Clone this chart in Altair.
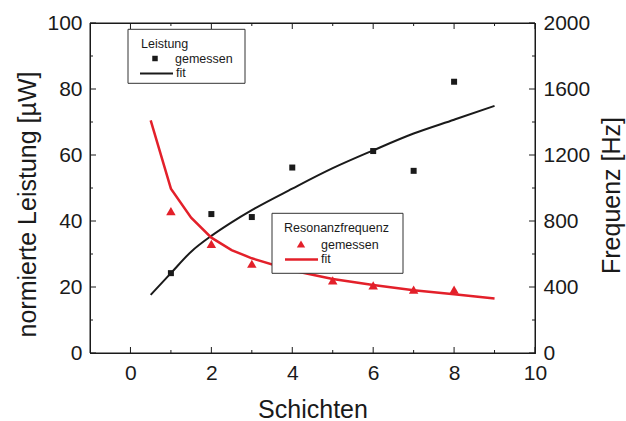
import altair as alt
import pandas as pd

# ---- data ----
schichten_p = [1, 2, 3, 4, 6, 7, 8]
leistung = [24.2, 42.1, 41.2, 56.2, 61.2, 55.2, 82.2]
fit_x_p = [0.5, 1, 1.5, 2, 2.5, 3, 4, 5, 6, 7, 8, 9]
fit_p = [17.6, 24.2, 30.7, 35.5, 39.6, 43.3, 49.8, 56.0, 61.4, 66.5, 70.7, 74.9]

schichten_f = [1, 2, 3, 5, 6, 7, 8]
frequenz = [860, 662, 541, 440, 410, 384, 384]
fit_x_f = [0.5, 1, 1.5, 2, 2.5, 3, 4, 5, 6, 7, 8, 9]
fit_f = [1410, 996, 820, 699, 624, 574, 500, 448, 412, 380, 356, 331]

x_major = [0, 2, 4, 6, 8, 10]
x_minor = [1, 3, 5, 7, 9]
yl_major = [0, 20, 40, 60, 80, 100]
yl_minor = [10, 30, 50, 70, 90]
yr_major = [0, 400, 800, 1200, 1600, 2000]
yr_minor = [200, 600, 1000, 1400, 1800]

W, H = 445, 330
PAD_L, PAD_T = 90, 23
BLACK = "#1a1a1a"
RED = "#e3202a"

xs = alt.Scale(domain=[-1, 10], nice=False, zero=False)
yls = alt.Scale(domain=[0, 100], nice=False)
yrs = alt.Scale(domain=[0, 2000], nice=False)

x_axis = alt.Axis(values=x_major, title="Schichten", labelFontSize=21, titleFontSize=25,
                  tickSize=0, labelPadding=9, titleY=56, titleBaseline="middle",
                  labelFlush=False, format="d")
yl_axis = alt.Axis(values=yl_major, orient="left", title="normierte Leistung [µW]",
                   labelFontSize=21, titleFontSize=25, tickSize=0, labelPadding=8,
                   titleX=-63, titleY=181, titleAngle=270, titleAlign="center",
                   titleBaseline="middle", format="d")
yr_axis = alt.Axis(values=yr_major, orient="right", title="Frequenz [Hz]",
                   labelFontSize=21, titleFontSize=25, tickSize=0, labelPadding=8,
                   titleX=76, titleY=172, titleAngle=270, titleAlign="center",
                   titleBaseline="middle", format="d")

X = lambda f: alt.X(f, type="quantitative", scale=xs, axis=x_axis)
YL = lambda f: alt.Y(f, type="quantitative", scale=yls, axis=yl_axis)
YR = lambda f: alt.Y(f, type="quantitative", scale=yrs, axis=yr_axis)

df_p = pd.DataFrame({"x": schichten_p, "y": leistung})
df_pf = pd.DataFrame({"x": fit_x_p, "y": fit_p})
df_f = pd.DataFrame({"x": schichten_f, "y": frequenz})
df_ff = pd.DataFrame({"x": fit_x_f, "y": fit_f})

one = pd.DataFrame({"a": [0]})


def xticks(vals, ln):
    d = pd.DataFrame({"v": vals})
    bot = alt.Chart(d).mark_rule(color=BLACK, strokeWidth=1).encode(
        x=X("v"), y=alt.value(H), y2=alt.value(H - ln))
    top = alt.Chart(d).mark_rule(color=BLACK, strokeWidth=1).encode(
        x=X("v"), y=alt.value(0), y2=alt.value(ln))
    return [bot, top]


def ylticks(vals, ln):
    d = pd.DataFrame({"v": vals})
    return alt.Chart(d).mark_rule(color=BLACK, strokeWidth=1).encode(
        y=YL("v"), x=alt.value(0), x2=alt.value(ln))


def yrticks(vals, ln):
    d = pd.DataFrame({"v": vals})
    return alt.Chart(d).mark_rule(color=BLACK, strokeWidth=1).encode(
        y=YR("v"), x=alt.value(W), x2=alt.value(W - ln))


fit_p_line = alt.Chart(df_pf).mark_line(color=BLACK, strokeWidth=2, interpolate="monotone").encode(
    x=X("x"), y=YL("y"))
pts_p = alt.Chart(df_p).mark_point(shape="square", filled=True, size=36, color=BLACK,
                                   opacity=1).encode(x=X("x"), y=YL("y"))

left = alt.layer(
    fit_p_line, pts_p,
    *xticks(x_major, 6), *xticks(x_minor, 3),
    ylticks(yl_major, 6), ylticks(yl_minor, 3),
)

fit_f_line = alt.Chart(df_ff).mark_line(color=RED, strokeWidth=2.5).encode(x=X("x"), y=YR("y"))
pts_f = alt.Chart(df_f).mark_point(shape="triangle-up", filled=True, size=90, color=RED,
                                   opacity=1).encode(x=X("x"), y=YR("y"))


def box(x1, x2, y1, y2, fill="white"):
    return alt.Chart(one).mark_rect(fill=fill, stroke="#333333", strokeWidth=1).encode(
        x=alt.value(x1), x2=alt.value(x2), y=alt.value(y1), y2=alt.value(y2))


def txt(s, x, y, size=12.5):
    return alt.Chart(one).mark_text(text=s, align="left", baseline="middle", fontSize=size,
                                    color=BLACK).encode(x=alt.value(x), y=alt.value(y))


def sym(shape, color, size, x, y):
    return alt.Chart(one).mark_point(shape=shape, filled=True, size=size, color=color,
                                     opacity=1).encode(x=alt.value(x), y=alt.value(y))


def seg(color, w, x1, x2, y):
    return alt.Chart(one).mark_rule(color=color, strokeWidth=w).encode(
        x=alt.value(x1), x2=alt.value(x2), y=alt.value(y))


frame = alt.Chart(one).mark_rect(fill="transparent", stroke=BLACK, strokeWidth=1).encode(
    x=alt.value(0), x2=alt.value(W), y=alt.value(0), y2=alt.value(H))

legends = [
    box(38, 155, 6.3, 60.3),
    txt("Leistung", 51, 20.5),
    sym("square", BLACK, 30, 65, 35.5),
    txt("gemessen", 85, 35.5),
    seg(BLACK, 2, 50, 83, 50.6),
    txt("fit", 86, 50),
    box(182, 313, 190.3, 250.3),
    txt("Resonanzfrequenz", 194, 205),
    sym("triangle-up", RED, 70, 211, 221),
    txt("gemessen", 231, 222),
    seg(RED, 2.5, 195, 228, 236.6),
    txt("fit", 231, 236),
]

right = alt.layer(
    fit_f_line, pts_f,
    yrticks(yr_major, 6), yrticks(yr_minor, 3),
    frame,
    *legends,
)

chart = alt.layer(left, right).resolve_scale(y="independent").properties(
    width=W, height=H,
    autosize=alt.AutoSizeParams(type="none"),
    padding={"left": PAD_L, "top": PAD_T, "right": 626 - PAD_L - W, "bottom": 421 - PAD_T - H},
).configure(font="Liberation Sans", background="white").configure_view(
    stroke=BLACK, strokeWidth=1
).configure_axis(
    grid=False, domainColor=BLACK, labelColor=BLACK, titleColor=BLACK,
    titleFontWeight="normal", domainWidth=1,
)

chart.save("out.html", embed_options={"renderer": "svg", "actions": False})
